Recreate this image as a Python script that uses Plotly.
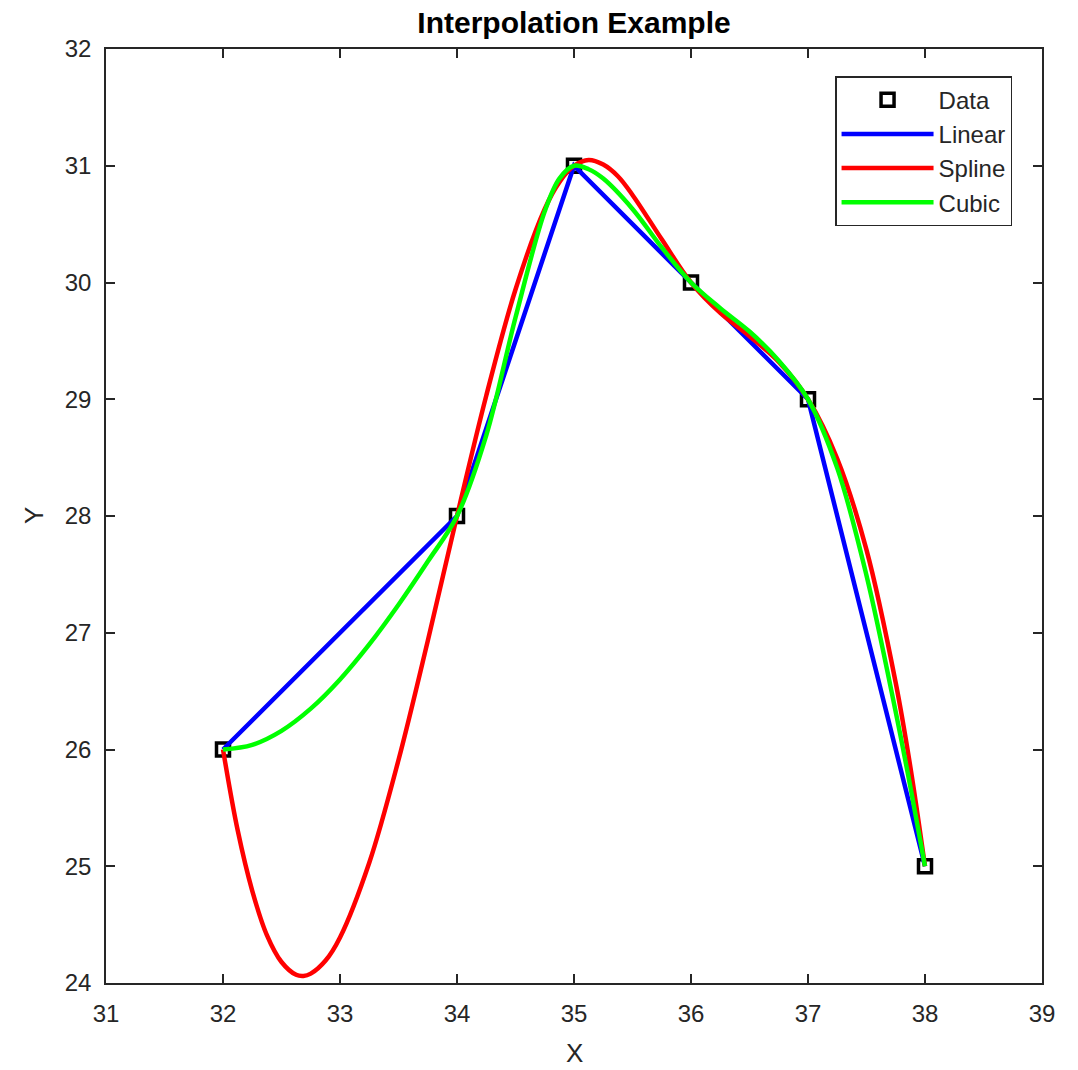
import plotly.graph_objects as go

# Data points
x_data = [32, 34, 35, 36, 37, 38]
y_data = [26, 28, 31, 30, 29, 25]

# Linear interpolation (passes through data points)
x_linear = [32, 34, 35, 36, 37, 38]
y_linear = [26, 28, 31, 30, 29, 25]

# Spline curve values
x_spline = [32, 32.125, 32.25, 32.375, 32.5, 32.625, 32.6875, 32.75, 32.875, 33, 33.25, 33.5, 33.75,
            34, 34.25, 34.5, 34.75, 34.875, 35, 35.125, 35.25, 35.375, 35.5, 35.75,
            36, 36.25, 36.5, 36.75, 37, 37.25, 37.5, 37.75, 37.875, 38]
y_spline = [26, 25.31, 24.79, 24.41, 24.18, 24.07, 24.06, 24.08, 24.19, 24.39, 25.03, 25.91, 26.93,
            28, 29.03, 29.94, 30.63, 30.86, 31, 31.05, 31.01, 30.91, 30.75, 30.37,
            30, 29.74, 29.54, 29.32, 29, 28.49, 27.71, 26.57, 25.85, 25]

# Cubic (shape-preserving) curve values
x_cubic = [32, 32.25, 32.5, 32.75, 33, 33.25, 33.5, 33.75, 34, 34.25, 34.5, 34.75, 34.875,
           35, 35.125, 35.25, 35.5, 35.75, 36, 36.25, 36.5, 36.75, 37, 37.25, 37.5, 37.75, 37.875, 38]
y_cubic = [26, 26.04, 26.16, 26.35, 26.60, 26.90, 27.24, 27.61, 28, 28.69, 29.70, 30.61, 30.89,
           31, 30.97, 30.89, 30.63, 30.30, 30, 29.78, 29.58, 29.33, 29, 28.41, 27.49, 26.32, 25.68, 25]

x_ticks = [31, 32, 33, 34, 35, 36, 37, 38, 39]
y_ticks = [24, 25, 26, 27, 28, 29, 30, 31, 32]

FONT = "Liberation Sans, Arial, Helvetica, sans-serif"
AX = "#262626"

fig = go.Figure()
fig.add_trace(go.Scatter(
    x=x_data, y=y_data, mode="markers", name="Data",
    marker=dict(symbol="square-open", size=13, color="black", line=dict(width=3.5, color="black")),
))
fig.add_trace(go.Scatter(
    x=x_linear, y=y_linear, mode="lines", name="Linear",
    line=dict(color="#0000ff", width=4.5),
))
fig.add_trace(go.Scatter(
    x=x_spline, y=y_spline, mode="lines", name="Spline",
    line=dict(color="#ff0000", width=4.5, shape="spline", smoothing=1),
))
fig.add_trace(go.Scatter(
    x=x_cubic, y=y_cubic, mode="lines", name="Cubic",
    line=dict(color="#00ff00", width=4.5, shape="spline", smoothing=1),
))

axis_common = dict(
    showgrid=False, zeroline=False, showline=True, linecolor=AX, linewidth=1.5,
    mirror="ticks", ticks="inside", ticklen=9, tickwidth=1.5, tickcolor=AX,
    tickfont=dict(family=FONT, size=24, color=AX), ticklabelstandoff=8,
)

W, H = 1078, 1070
fig.update_layout(
    width=W, height=H,
    margin=dict(l=106, r=36, t=49, b=87),
    paper_bgcolor="white", plot_bgcolor="white",
    title=dict(text="<b>Interpolation Example</b>", x=0.5, xanchor="center",
               xref="paper", y=1 - 22 / H, yanchor="middle",
               font=dict(family=FONT, size=30, color="black")),
    xaxis=dict(range=[31, 39], tickvals=x_ticks, ticktext=[str(v) for v in x_ticks],
               **axis_common),
    yaxis=dict(range=[24, 32], tickvals=y_ticks, ticktext=[str(v) for v in y_ticks],
               **axis_common),
    legend=dict(x=0.968, y=0.971, xanchor="right", yanchor="top",
                bgcolor="white", bordercolor=AX, borderwidth=1.5,
                font=dict(family=FONT, size=24, color=AX),
                itemwidth=92, tracegroupgap=0),
    showlegend=True,
    annotations=[
        dict(text="X", xref="paper", yref="paper", x=0.5, y=0, xanchor="center",
             yanchor="middle", yshift=-70, showarrow=False,
             font=dict(family=FONT, size=26, color=AX)),
        dict(text="Y", xref="paper", yref="paper", x=0, y=0.5, xanchor="center",
             yanchor="middle", xshift=-72, textangle=-90, showarrow=False,
             font=dict(family=FONT, size=26, color=AX)),
    ],
)

fig.write_html("out.html", config={"displayModeBar": False},
               post_script="document.body.style.margin='0';document.body.style.overflow='hidden';")
